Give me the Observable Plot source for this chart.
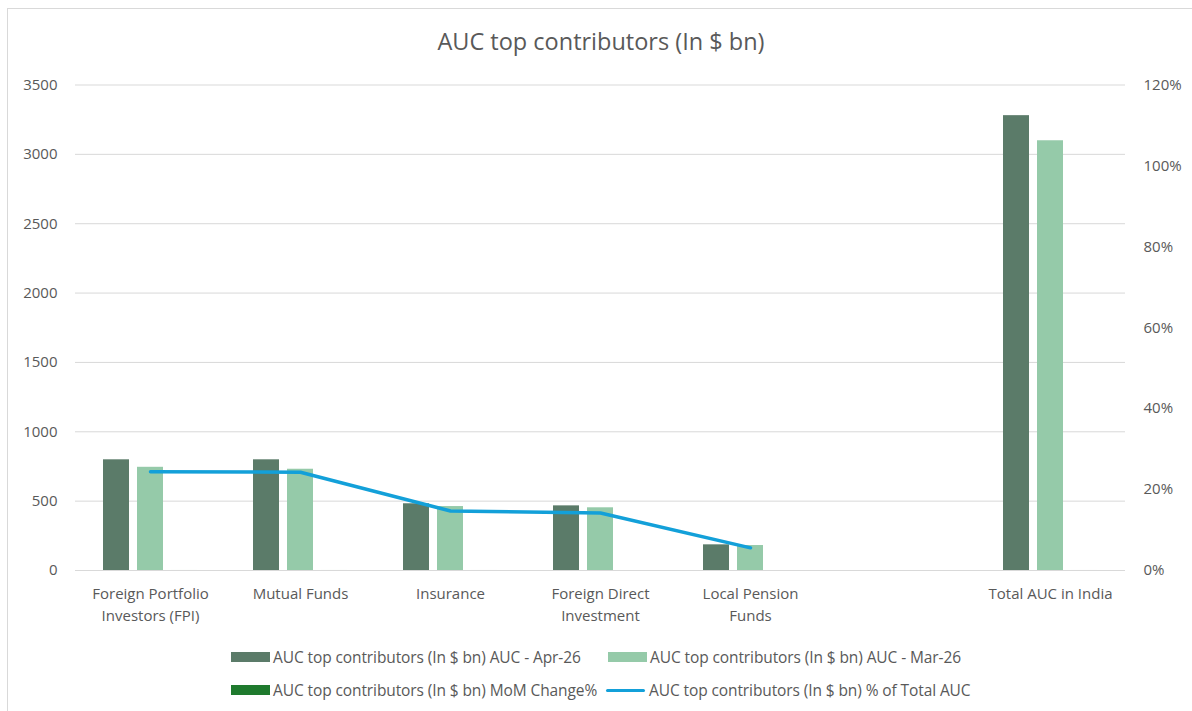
<!DOCTYPE html>
<html>
<head>
<meta charset="utf-8">
<script src="https://cdn.jsdelivr.net/npm/d3@7"></script>
<script src="https://cdn.jsdelivr.net/npm/@observablehq/plot@0.6"></script>
<style>
  html, body { margin: 0; padding: 0; background: #fff; }
  #frame {
    position: relative; width: 1192px; height: 711px; overflow: hidden;
    font-family: "Open Sans", Lato, sans-serif; color: #595959;
  }
  #box {
    position: absolute; left: 7px; top: 8px; right: -10px; bottom: -10px;
    border: 1px solid #d9d9d9;
  }
  #title {
    position: absolute; left: 0; top: 27px; width: 1202px; text-align: center;
    font-size: 23.5px; line-height: 28px; color: #595959;
  }
  #chart { position: absolute; left: 0; top: 70px; }
  .leg { position: absolute; display: flex; align-items: center; font-size: 15.5px; white-space: nowrap; color: #595959; height: 20px; letter-spacing: -0.1px; }
  .sw { width: 39px; height: 10px; margin-right: 3px; }
  .ln { width: 39px; height: 3px; margin-right: 4px; border-radius: 2px; }
</style>
</head>
<body>
<div id="frame">
  <div id="box"></div>
  <div id="title">AUC top contributors (In $ bn)</div>
  <div id="chart"></div>
</div>
<script>
// Categories along the x axis (one slot is left blank before the total)
const categories = ["FPI", "MF", "INS", "FDI", "LPF", "", "TOTAL"];
const categoryLabels = [
  "Foreign Portfolio\nInvestors (FPI)",
  "Mutual Funds",
  "Insurance",
  "Foreign Direct\nInvestment",
  "Local Pension\nFunds",
  "",
  "Total AUC in India"
];

// Series values, $ bn
const aucApr26 = [798, 798, 481, 466, 185, null, 3279];
const aucMar26 = [744, 730, 461, 452, 180, null, 3098];
// Month-on-month change (fraction) — plotted on the $ bn axis, so effectively flat
const momChange = [0.073, 0.093, 0.043, 0.031, 0.028, null, 0.058];
// Share of total AUC (%), secondary axis
const shareOfTotal = [24.4, 24.3, 14.7, 14.2, 5.6, null, null];

// Axis ticks
const leftTicks = [0, 500, 1000, 1500, 2000, 2500, 3000, 3500];
const rightTicks = [0, 20, 40, 60, 80, 100, 120];

const seriesNames = [
  "AUC top contributors (In $ bn) AUC - Apr-26",
  "AUC top contributors (In $ bn) AUC - Mar-26",
  "AUC top contributors (In $ bn) MoM Change%",
  "AUC top contributors (In $ bn) % of Total AUC"
];
const colors = ["#5b7b69", "#95caa9", "#1f7a2e", "#13a0d9"];

const yMax = 3500, pctMax = 120;
const pctToY = p => p * yMax / pctMax;

const rows = categories.map((c, i) => ({
  cat: c, apr: aucApr26[i], mar: aucMar26[i], mom: momChange[i], share: shareOfTotal[i]
}));
const barRows = rows.filter(d => d.apr != null);
const lineRows = rows.filter(d => d.share != null);
const labelOf = Object.fromEntries(categories.map((c, i) => [c, categoryLabels[i]]));

const chart = Plot.plot({
  width: 1192,
  height: 560,
  marginLeft: 75,
  marginRight: 67,
  marginTop: 14.5,
  marginBottom: 60,
  style: { fontFamily: "'Open Sans', Lato, sans-serif", color: "#595959", background: "transparent", overflow: "visible" },
  x: { type: "band", domain: categories, padding: 0, label: null },
  y: { domain: [0, yMax], label: null },
  marks: [
    Plot.ruleY(leftTicks, { stroke: "#d9d9d9", strokeWidth: 1 }),
    Plot.barY(barRows, { x: "cat", y: "apr", fill: colors[0], insetLeft: 28, insetRight: 96 }),
    Plot.barY(barRows, { x: "cat", y: "mar", fill: colors[1], insetLeft: 62, insetRight: 62 }),
    Plot.barY(barRows, { x: "cat", y: "mom", fill: colors[2], insetLeft: 96, insetRight: 28 }),
    Plot.lineY(lineRows, {
      x: "cat", y: d => pctToY(d.share),
      stroke: colors[3], strokeWidth: 3.5, strokeLinecap: "round", strokeLinejoin: "round"
    }),
    Plot.axisY(leftTicks, {
      anchor: "left", tickSize: 0, tickPadding: 18, fontSize: 15, label: null,
      tickFormat: d => String(d)
    }),
    Plot.axisY(rightTicks.map(pctToY), {
      anchor: "right", tickSize: 0, tickPadding: 18, fontSize: 15, label: null,
      tickFormat: v => Math.round(v * pctMax / yMax) + "%"
    }),
    Plot.axisX({
      anchor: "bottom", tickSize: 0, tickPadding: 12.5, fontSize: 15, label: null,
      lineHeight: 1.5, tickFormat: c => labelOf[c]
    })
  ]
});
document.getElementById("chart").appendChild(chart);

// Legend below the plot
const frame = document.getElementById("frame");
const legendItems = [
  { name: seriesNames[0], color: colors[0], kind: "bar", left: 231, top: 647 },
  { name: seriesNames[1], color: colors[1], kind: "bar", left: 608, top: 647 },
  { name: seriesNames[2], color: colors[2], kind: "bar", left: 231, top: 680 },
  { name: seriesNames[3], color: colors[3], kind: "line", left: 606, top: 680 }
];
for (const item of legendItems) {
  const el = document.createElement("div");
  el.className = "leg";
  el.style.left = item.left + "px";
  el.style.top = item.top + "px";
  const sw = document.createElement("span");
  sw.className = item.kind === "bar" ? "sw" : "ln";
  sw.style.background = item.color;
  const tx = document.createElement("span");
  tx.textContent = item.name;
  el.appendChild(sw);
  el.appendChild(tx);
  frame.appendChild(el);
}
</script>
</body>
</html>
